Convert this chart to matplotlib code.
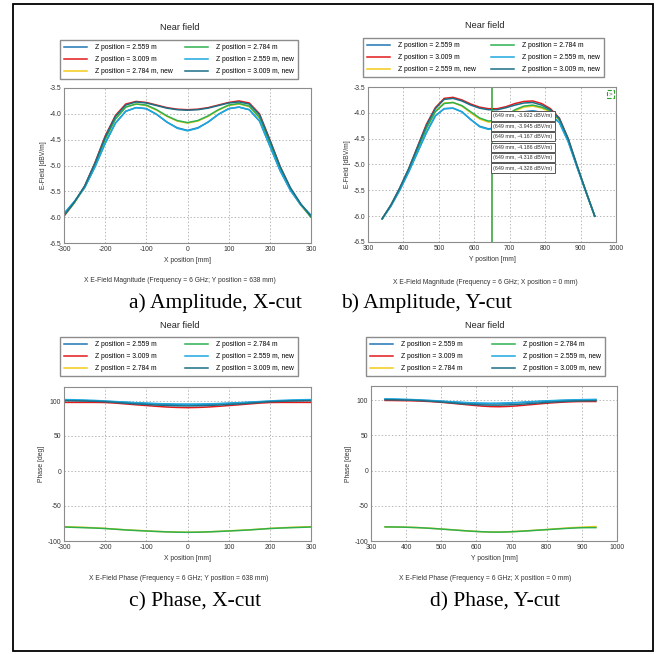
import numpy as np
import matplotlib
matplotlib.use("Agg")
import matplotlib.pyplot as plt
import matplotlib.transforms as mtransforms
from matplotlib.patches import Rectangle

plt.rcParams['font.family'] = ['Liberation Sans', 'DejaVu Sans']
plt.rcParams['axes.unicode_minus'] = False

# ---------------- data ----------------
labels_a = ['Z position = 2.559 m', 'Z position = 3.009 m', 'Z position = 2.784 m, new',
            'Z position = 2.784 m', 'Z position = 2.559 m, new', 'Z position = 3.009 m, new']
labels_b = ['Z position = 2.559 m', 'Z position = 3.009 m', 'Z position = 2.559 m, new',
            'Z position = 2.784 m', 'Z position = 2.559 m, new', 'Z position = 3.009 m, new']
labels_ph = ['Z position = 2.559 m', 'Z position = 3.009 m', 'Z position = 2.784 m',
             'Z position = 2.784 m', 'Z position = 2.559 m, new', 'Z position = 3.009 m, new']
colors = ['#1f77b4', '#e31a1c', '#f2cc1a', '#2eb050', '#1ea8e0', '#1b6f86']

# X-cut, amplitude [dBV/m]
x_cut = [-300, -275, -250, -225, -200, -175, -150, -125, -100, -75, -50, -25, 0,
         25, 50, 75, 100, 125, 150, 175, 200, 225, 250, 275, 300]
amp_x_2559 = [-5.93, -5.70, -5.43, -5.03, -4.57, -4.18, -3.95, -3.88, -3.90, -4.01, -4.16, -4.27, -4.32,
              -4.27, -4.16, -4.01, -3.90, -3.87, -3.92, -4.14, -4.62, -5.10, -5.48, -5.76, -5.97]
amp_x_3009 = [-5.98, -5.72, -5.40, -4.95, -4.43, -4.03, -3.81, -3.76, -3.78, -3.83, -3.88, -3.91, -3.92,
              -3.91, -3.88, -3.83, -3.78, -3.75, -3.79, -4.00, -4.50, -5.02, -5.44, -5.75, -6.00]
amp_x_2784_new = [-5.97, -5.72, -5.42, -4.99, -4.49, -4.10, -3.87, -3.81, -3.84, -3.93, -4.05, -4.14, -4.18,
                  -4.14, -4.05, -3.93, -3.84, -3.81, -3.86, -4.08, -4.57, -5.06, -5.46, -5.76, -5.99]
amp_x_2784 = [-5.97, -5.72, -5.42, -4.99, -4.49, -4.10, -3.87, -3.81, -3.83, -3.92, -4.04, -4.13, -4.17,
              -4.13, -4.04, -3.92, -3.83, -3.80, -3.85, -4.07, -4.56, -5.06, -5.46, -5.76, -6.00]
amp_x_2559_new = [-5.93, -5.70, -5.43, -5.03, -4.57, -4.18, -3.95, -3.88, -3.90, -4.01, -4.16, -4.28, -4.33,
                  -4.28, -4.16, -4.01, -3.90, -3.87, -3.92, -4.14, -4.62, -5.10, -5.48, -5.76, -5.96]
amp_x_3009_new = [-5.97, -5.71, -5.40, -4.96, -4.45, -4.05, -3.83, -3.77, -3.79, -3.84, -3.89, -3.92, -3.93,
                  -3.92, -3.89, -3.84, -3.79, -3.77, -3.81, -4.02, -4.51, -5.02, -5.43, -5.74, -5.98]

# Y-cut, amplitude [dBV/m]
y_cut = [340, 365, 390, 415, 440, 465, 490, 515, 540, 565, 590, 615, 640,
         665, 690, 715, 740, 765, 790, 815, 840, 865, 890, 915, 940]
amp_y_2559 = [-6.05, -5.80, -5.49, -5.14, -4.76, -4.38, -4.06, -3.92, -3.91, -3.98, -4.13, -4.26, -4.31,
              -4.28, -4.18, -4.06, -3.98, -3.96, -3.99, -4.04, -4.18, -4.55, -5.05, -5.53, -6.00]
amp_y_3009 = [-6.05, -5.78, -5.45, -5.08, -4.65, -4.22, -3.90, -3.72, -3.70, -3.75, -3.83, -3.89, -3.92,
              -3.92, -3.88, -3.82, -3.78, -3.77, -3.82, -3.92, -4.10, -4.50, -5.02, -5.52, -6.00]
amp_y_2559_new_y = [-6.05, -5.79, -5.47, -5.10, -4.69, -4.29, -3.97, -3.81, -3.80, -3.87, -4.00, -4.12, -4.18,
                    -4.16, -4.07, -3.96, -3.89, -3.87, -3.91, -3.98, -4.14, -4.53, -5.03, -5.52, -6.00]
amp_y_2784 = [-6.05, -5.79, -5.47, -5.11, -4.70, -4.30, -3.98, -3.82, -3.80, -3.86, -3.98, -4.10, -4.16,
              -4.14, -4.05, -3.94, -3.87, -3.85, -3.89, -3.96, -4.13, -4.52, -5.03, -5.52, -6.00]
amp_y_2559_new = [-6.05, -5.80, -5.49, -5.14, -4.76, -4.38, -4.06, -3.92, -3.91, -3.98, -4.13, -4.27, -4.32,
                  -4.29, -4.19, -4.07, -3.99, -3.97, -4.00, -4.05, -4.19, -4.56, -5.05, -5.53, -6.00]
amp_y_3009_new = [-6.05, -5.78, -5.45, -5.08, -4.66, -4.24, -3.92, -3.74, -3.72, -3.77, -3.85, -3.91, -3.94,
                  -3.94, -3.90, -3.85, -3.81, -3.80, -3.85, -3.94, -4.11, -4.50, -5.02, -5.52, -6.00]

cursor_y = 649
cursor_vals = [-3.922, -3.945, -4.167, -4.186, -4.318, -4.328]

# X-cut, phase [deg]
ph_x_2559 = [101.0, 100.8, 100.5, 100.1, 99.5, 98.8, 98.0, 97.2, 96.5, 95.9, 95.4, 95.1, 95.0,
             95.1, 95.4, 95.9, 96.5, 97.2, 98.0, 98.8, 99.5, 100.1, 100.5, 100.8, 101.0]
ph_x_3009 = [98.0, 98.0, 98.0, 98.0, 97.8, 97.0, 95.8, 94.6, 93.5, 92.4, 91.4, 90.8, 90.5,
             90.8, 91.4, 92.4, 93.5, 94.6, 95.8, 97.0, 97.8, 98.0, 98.0, 98.0, 98.0]
ph_x_2784_y = [-79.5, -80.0, -80.5, -81.2, -82.0, -83.0, -84.0, -84.8, -85.5, -86.2, -86.9, -87.3, -87.5,
               -87.3, -86.9, -86.2, -85.5, -84.8, -84.0, -83.0, -82.0, -81.2, -80.5, -80.0, -79.5]
ph_x_2784 = [-80.0, -80.5, -81.0, -81.5, -82.2, -83.2, -84.2, -85.0, -85.7, -86.4, -87.0, -87.4, -87.6,
             -87.4, -87.0, -86.4, -85.7, -85.0, -84.2, -83.2, -82.2, -81.5, -81.0, -80.5, -80.0]
ph_x_2559_new = [102.0, 101.8, 101.4, 100.8, 100.0, 99.2, 98.4, 97.6, 97.0, 96.4, 95.9, 95.6, 95.5,
                 95.6, 95.9, 96.4, 97.0, 97.6, 98.4, 99.2, 100.0, 100.8, 101.4, 101.8, 102.0]
ph_x_3009_new = [100.5, 100.3, 100.0, 99.6, 99.0, 98.0, 96.8, 95.8, 95.0, 94.2, 93.6, 93.2, 93.0,
                 93.2, 93.6, 94.2, 95.0, 95.8, 96.8, 98.0, 99.0, 99.6, 100.0, 100.3, 100.5]

# Y-cut, phase [deg]
ph_y_2559 = [101.0, 100.9, 100.6, 100.3, 99.8, 99.2, 98.5, 97.7, 96.9, 96.2, 95.6, 95.2, 95.0,
             95.1, 95.5, 96.1, 96.8, 97.5, 98.2, 98.8, 99.3, 99.7, 100.0, 100.3, 100.5]
ph_y_3009 = [99.5, 99.4, 99.2, 99.0, 98.6, 98.0, 97.2, 96.2, 95.0, 93.8, 92.6, 91.5, 90.8,
             90.6, 91.0, 91.8, 92.9, 94.0, 95.1, 96.1, 96.9, 97.5, 97.9, 98.0, 98.0]
ph_y_2784_y = [-80.0, -80.1, -80.3, -80.6, -81.1, -81.8, -82.6, -83.5, -84.4, -85.3, -86.1, -86.8, -87.2,
               -87.2, -86.9, -86.3, -85.6, -84.8, -84.0, -83.1, -82.2, -81.3, -80.6, -80.0, -79.5]
ph_y_2784 = [-80.0, -80.1, -80.3, -80.7, -81.2, -81.9, -82.7, -83.6, -84.5, -85.4, -86.2, -86.9, -87.3,
             -87.4, -87.1, -86.5, -85.8, -85.0, -84.2, -83.4, -82.6, -81.9, -81.3, -81.0, -81.0]
ph_y_2559_new = [101.8, 101.6, 101.2, 100.8, 100.2, 99.6, 98.9, 98.1, 97.4, 96.7, 96.1, 95.7, 95.5,
                 95.6, 96.0, 96.6, 97.3, 98.0, 98.7, 99.3, 99.8, 100.2, 100.5, 100.8, 101.0]
ph_y_3009_new = [100.5, 100.4, 100.1, 99.8, 99.3, 98.6, 97.7, 96.7, 95.6, 94.6, 93.8, 93.2, 92.9,
                 92.9, 93.2, 93.8, 94.6, 95.5, 96.4, 97.2, 97.9, 98.4, 98.8, 99.0, 99.2]

W, H = 660, 654
fig = plt.figure(figsize=(W / 100, H / 100), dpi=100)
fs = 4.9


def px_axes(l, r, t, b):
    return fig.add_axes([l / W, 1 - b / H, (r - l) / W, (b - t) / H])


def panel(ax, xs, series, labels, xlim, xticks, ylim, yticks, xlabel, ylabel,
          title_xy, leg_box, sub_xy, subtitle, cap_xy, caption):
    for ys, c, lab in zip(series, colors, labels):
        ax.plot(xs, ys, color=c, lw=1.1, label=lab)
    ax.set_xlim(*xlim)
    ax.set_ylim(*ylim)
    ax.set_xticks(xticks)
    ax.set_yticks(yticks)
    ax.tick_params(labelsize=fs, length=0, pad=2, colors='#333333')
    ax.grid(True, ls=(0, (1.5, 2)), color='#b8b8b8', lw=0.7)
    for s in ax.spines.values():
        s.set_color('#8c8c8c')
        s.set_linewidth(0.8)
    ax.set_xlabel(xlabel, fontsize=fs, color='#333333', labelpad=3)
    ax.set_ylabel(ylabel, fontsize=fs, color='#333333', labelpad=2)
    l, t, r, b = leg_box
    ax.legend(loc='upper left', bbox_to_anchor=(l / W, 1 - b / H, (r - l) / W, (b - t) / H),
              bbox_transform=fig.transFigure, mode='expand', ncol=2, fontsize=fs,
              handlelength=3.4, handletextpad=1.2, labelspacing=0.72, borderpad=0.6,
              fancybox=False, framealpha=1, edgecolor='#8c8c8c', borderaxespad=0)
    fig.text(title_xy[0] / W, 1 - title_xy[1] / H, 'Near field', fontsize=6.6,
             ha='center', va='center', color='#222222')
    fig.text(sub_xy[0] / W, 1 - sub_xy[1] / H, subtitle, fontsize=fs,
             ha='center', va='center', color='#333333')
    fig.text(cap_xy[0] / W, 1 - cap_xy[1] / H, caption, fontsize=15.5,
             family='Liberation Serif', ha='center', va='center', color='black')


ax_a = px_axes(64, 311, 88, 243)
panel(ax_a, x_cut,
      [amp_x_2559, amp_x_3009, amp_x_2784_new, amp_x_2784, amp_x_2559_new, amp_x_3009_new],
      labels_a, (-300, 300), [-300, -200, -100, 0, 100, 200, 300], (-6.5, -3.5),
      [-6.5, -6.0, -5.5, -5.0, -4.5, -4.0, -3.5], 'X position [mm]', 'E-Field [dBV/m]',
      (180, 27), (60, 40, 298, 82), (180, 281),
      'X E-Field Magnitude (Frequency = 6 GHz; Y position = 638 mm)', (215, 303),
      'a) Amplitude, X-cut')
ax_a.yaxis.set_major_formatter(plt.FormatStrFormatter('%.1f'))

ax_b = px_axes(368, 616, 87, 242)
panel(ax_b, y_cut,
      [amp_y_2559, amp_y_3009, amp_y_2559_new_y, amp_y_2784, amp_y_2559_new, amp_y_3009_new],
      labels_b, (300, 1000), [300, 400, 500, 600, 700, 800, 900, 1000], (-6.5, -3.5),
      [-6.5, -6.0, -5.5, -5.0, -4.5, -4.0, -3.5], 'Y position [mm]', 'E-Field [dBV/m]',
      (485, 25), (363, 38, 604, 80), (485, 283),
      'X E-Field Magnitude (Frequency = 6 GHz; X position = 0 mm)', (427, 303),
      'b) Amplitude, Y-cut')
ax_b.yaxis.set_major_formatter(plt.FormatStrFormatter('%.1f'))
ax_b.axvline(cursor_y, color='#2ca02c', lw=1.1)
blend = mtransforms.blended_transform_factory(ax_b.transData, ax_b.transAxes)
for i, v in enumerate(cursor_vals):
    ax_b.text(cursor_y + 5, 0.813 - i * 0.0672, '(%d mm, %.3f dBV/m)' % (cursor_y, v),
              transform=blend, fontsize=3.9, va='center', ha='left', color='#333333',
              bbox=dict(boxstyle='square,pad=0.4', fc='white', ec='#555555', lw=0.7))
ax_b.text(0.978, 0.955, '>', transform=ax_b.transAxes, fontsize=4.5, ha='center', va='center',
          color='#555555',
          bbox=dict(boxstyle='square,pad=0.3', fc='white', ec='#2ca02c', lw=0.8, ls='--'))

ax_c = px_axes(64, 311, 387, 541)
panel(ax_c, x_cut,
      [ph_x_2559, ph_x_3009, ph_x_2784_y, ph_x_2784, ph_x_2559_new, ph_x_3009_new],
      labels_ph, (-300, 300), [-300, -200, -100, 0, 100, 200, 300], (-100, 120),
      [-100, -50, 0, 50, 100], 'X position [mm]', 'Phase [deg]',
      (180, 325), (60, 337, 298, 379), (179, 579),
      'X E-Field Phase (Frequency = 6 GHz; Y position = 638 mm)', (195, 602),
      'c) Phase, X-cut')

ax_d = px_axes(371, 617, 386, 541)
panel(ax_d, y_cut,
      [ph_y_2559, ph_y_3009, ph_y_2784_y, ph_y_2784, ph_y_2559_new, ph_y_3009_new],
      labels_ph, (300, 1000), [300, 400, 500, 600, 700, 800, 900, 1000], (-100, 120),
      [-100, -50, 0, 50, 100], 'Y position [mm]', 'Phase [deg]',
      (485, 325), (366, 337, 605, 379), (485, 578),
      'X E-Field Phase (Frequency = 6 GHz; X position = 0 mm)', (495, 602),
      'd) Phase, Y-cut')

# outer frame round the whole figure
fig.patches.append(Rectangle((13 / W, 1 - 651 / H), 640 / W, 647 / H, transform=fig.transFigure,
                             fill=False, ec='black', lw=1.3))

fig.savefig('out.png', dpi=100)
